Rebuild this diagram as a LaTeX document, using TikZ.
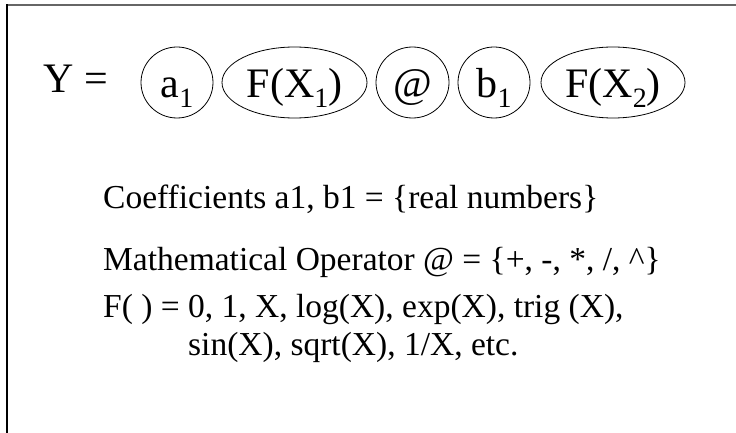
\documentclass[tikz,border=0pt]{standalone}
\usepackage{fontspec}
\setmainfont{Liberation Serif}
\usetikzlibrary{shapes.geometric}

\newcommand{\sbs}[1]{\raisebox{-10pt}{\fontsize{28}{28}\selectfont #1}}

\begin{document}
\begin{tikzpicture}[x=1pt,y=-1pt,
  term/.style={draw,ellipse,line width=0.8pt,inner sep=0pt,
    minimum height=71pt,text height=38pt,text depth=7pt,
    font=\fontsize{42}{42}\selectfont},
  body/.style={anchor=base west,inner sep=0pt,font=\fontsize{33.5}{40}\selectfont}]

\useasboundingbox (0,0) rectangle (736,433);

% Draw frame (top and left edges)
\draw[black!60,line width=2pt] (6,5.5) -- (736,5.5);
\draw[line width=1.2pt] (7,4.5) -- (7,433);

% Equation line
\node[anchor=base west,inner sep=0pt,font=\fontsize{42}{42}\selectfont] (Y) at (43,93) {Y =};
\node[term,minimum width=72pt] (a1) at (177,82.5) {a\sbs{1}};
\node[term,minimum width=145pt] (F1) at (294.5,82.5) {F(X\sbs{1})};
\node[term,minimum width=73pt] (op) at (412.5,82.5) {@};
\node[term,minimum width=72pt] (b1) at (494,82.5) {b\sbs{1}};
\node[term,minimum width=144pt] (F2) at (613,82.5) {F(X\sbs{2})};

% Explanation text
\node[body] (coef) at (103,208) {Coefficients a1, b1 = \{real numbers\}};
\node[body] (oper) at (103,270) {Mathematical Operator @ = \{+, -, *, /, \^{}\}};
\node[body] (func) at (103,317) {F( ) = 0, 1, X, log(X), exp(X), trig (X),};
\node[body] (funcb) at (188,355) {sin(X), sqrt(X), 1/X, etc.};

\end{tikzpicture}
\end{document}
